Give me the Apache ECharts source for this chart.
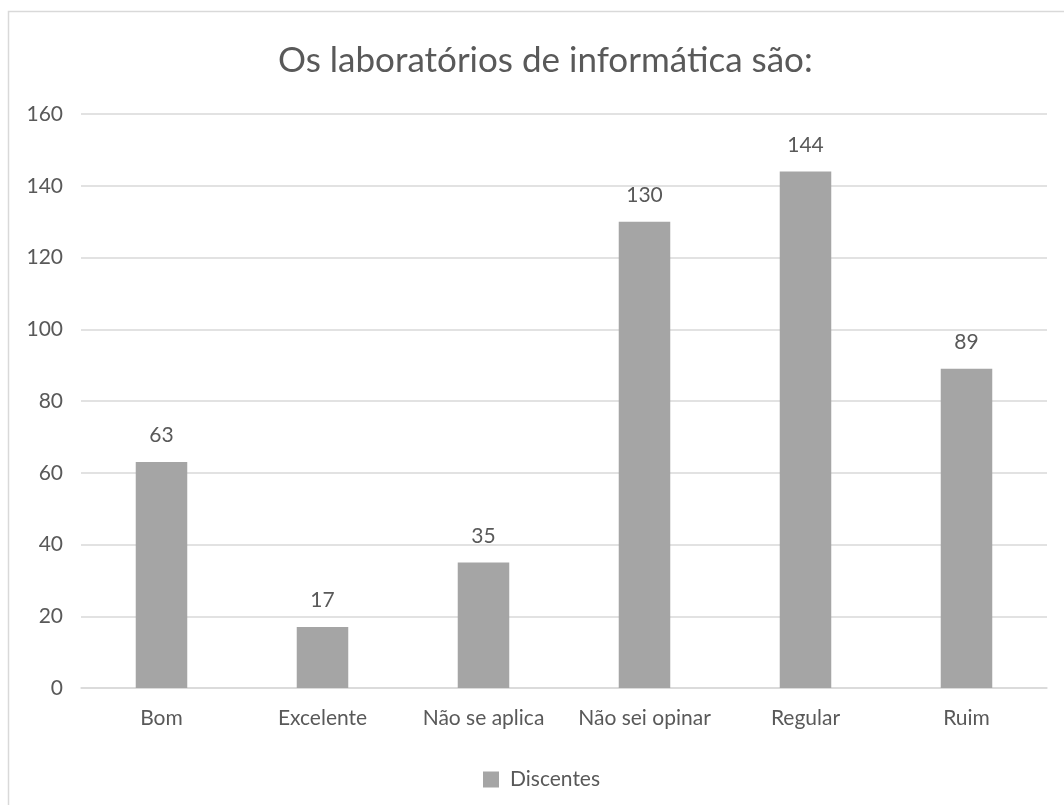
<!DOCTYPE html>
<html>
<head>
<meta charset="utf-8">
<script src="https://cdn.jsdelivr.net/npm/echarts@6/dist/echarts.min.js"></script>
<style>
  html, body { margin: 0; padding: 0; background: #ffffff; }
  #chart { width: 1064px; height: 805px; }
</style>
</head>
<body>
<div id="chart"></div>
<script>
// Survey answers: "Os laboratórios de informática são:"
const categories = ['Bom', 'Excelente', 'Não se aplica', 'Não sei opinar', 'Regular', 'Ruim'];
const discentes = [63, 17, 35, 130, 144, 89];
const seriesName = 'Discentes';
const titleText = 'Os laboratórios de informática são:';

const FONT = 'Lato, "Open Sans", sans-serif';
const TEXT = '#595959';
const LINE = '#D9D9D9';

const chart = echarts.init(document.getElementById('chart'), null, { renderer: 'canvas' });

chart.setOption({
  backgroundColor: '#ffffff',
  animation: false,
  graphic: [{
    type: 'rect',
    silent: true,
    shape: { x: 8.5, y: 11.5, width: 1200, height: 900 },
    style: { fill: 'none', stroke: LINE, lineWidth: 1.5 }
  }],
  title: {
    text: titleText,
    left: 273,
    top: 38,
    textStyle: { fontFamily: FONT, fontSize: 35, fontWeight: 'normal', color: TEXT }
  },
  legend: {
    data: [seriesName],
    left: 478,
    top: 764,
    itemWidth: 16,
    itemHeight: 16,
    itemGap: 10,
    icon: 'rect',
    textStyle: { fontFamily: FONT, fontSize: 21, color: TEXT, padding: [0, 0, 0, 6] }
  },
  grid: { left: 81, right: 17, top: 114, bottom: 117, containLabel: false },
  xAxis: {
    type: 'category',
    data: categories,
    axisLine: { show: true, lineStyle: { color: LINE, width: 1.5 } },
    axisTick: { show: false },
    axisLabel: { interval: 0, fontFamily: FONT, fontSize: 21, color: TEXT, margin: 20 }
  },
  yAxis: {
    type: 'value',
    min: 0,
    max: 160,
    interval: 20,
    axisLine: { show: false },
    axisTick: { show: false },
    splitLine: { lineStyle: { color: LINE, width: 1.5 } },
    axisLabel: { fontFamily: FONT, fontSize: 21, color: TEXT, margin: 18 }
  },
  series: [{
    name: seriesName,
    type: 'bar',
    data: discentes,
    barWidth: '32%',
    itemStyle: { color: '#A5A5A5' },
    label: {
      show: true,
      position: 'top',
      distance: 16,
      fontFamily: FONT,
      fontSize: 21,
      color: TEXT
    }
  }]
});
</script>
</body>
</html>
